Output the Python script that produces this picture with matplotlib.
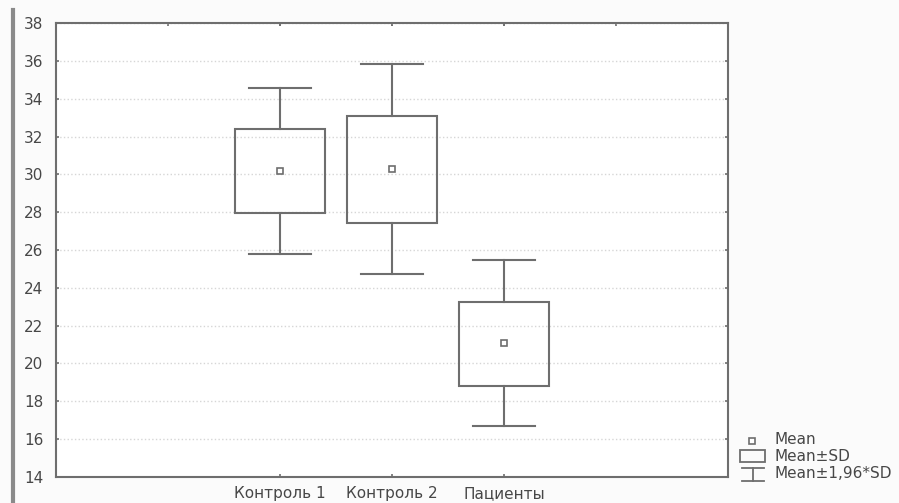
import matplotlib
matplotlib.use("Agg")
import matplotlib.pyplot as plt
from matplotlib.lines import Line2D
from matplotlib.patches import Rectangle

# data
groups = ["Контроль 1", "Контроль 2", "Пациенты"]
positions = [1, 2, 3]
means = [30.2, 30.3, 21.1]
sd_low = [27.95, 27.45, 18.82]
sd_high = [32.4, 33.1, 23.27]
ci_low = [25.8, 24.75, 16.68]
ci_high = [34.6, 35.85, 25.45]

EDGE = "#6e6e6e"
TXT = "#474747"

plt.rcParams["font.family"] = ["DejaVu Sans"]

fig = plt.figure(figsize=(8.99, 5.03), dpi=100, facecolor="#fbfbfb")
ax = fig.add_axes([56 / 899, 26.3 / 503, (728 - 56) / 899, (476.7 - 23.3) / 503])
ax.set_facecolor("white")

box_w = 0.8
cap_w = 0.56
for x, m, lo, hi, clo, chi in zip(positions, means, sd_low, sd_high, ci_low, ci_high):
    ax.add_patch(Rectangle((x - box_w / 2, lo), box_w, hi - lo, fill=False,
                           edgecolor=EDGE, lw=1.5, zorder=3))
    ax.plot([x, x], [hi, chi], color=EDGE, lw=1.5, zorder=3)
    ax.plot([x, x], [clo, lo], color=EDGE, lw=1.5, zorder=3)
    ax.plot([x - cap_w / 2, x + cap_w / 2], [chi, chi], color=EDGE, lw=1.5, zorder=3)
    ax.plot([x - cap_w / 2, x + cap_w / 2], [clo, clo], color=EDGE, lw=1.5, zorder=3)
    ax.plot(x, m, marker="s", ms=4.5, mfc="white", mec=EDGE, mew=1.2, zorder=4)

ax.set_xlim(-1, 5)
ax.set_ylim(14, 38)
ax.set_yticks(range(14, 39, 2))
ax.set_xticks(positions)
ax.set_xticklabels(groups)
ax.grid(axis="y", ls=":", color="#d6d6d6", lw=1.0)
ax.set_axisbelow(True)

for s in ax.spines.values():
    s.set_color(EDGE)
    s.set_linewidth(1.5)

ax.tick_params(direction="in", length=2, width=1.2, color=EDGE,
               labelcolor=TXT, labelsize=11, pad=9)
ax.tick_params(axis="x", pad=7)
ax.tick_params(right=True, top=True)
sec = ax.secondary_xaxis("top")
sec.set_xticks([0, 1, 2, 3, 4])
sec.tick_params(direction="in", length=2, width=1.2, color=EDGE, labeltop=False)
sec.spines["top"].set_visible(False)

# gray bar on the left edge
fig.add_artist(Line2D([13 / 899, 13 / 899], [0, 493 / 503], color="#8a8a8a",
                      lw=3, transform=fig.transFigure))

# legend drawn by hand
tf = fig.transFigure
def fx(px):
    return px / 899
def fy(py):
    return 1 - py / 503

fig.add_artist(Line2D([fx(752)], [fy(441)], marker="s", ms=4, mfc="white",
                      mec=EDGE, mew=1.2, transform=tf))
fig.add_artist(Rectangle((fx(740), fy(462)), fx(25), 12 / 503, fill=False,
                         edgecolor=EDGE, lw=1.3, transform=tf))
fig.add_artist(Line2D([fx(742), fx(764)], [fy(468), fy(468)], color=EDGE, lw=1.3, transform=tf))
fig.add_artist(Line2D([fx(753), fx(753)], [fy(468), fy(481)], color=EDGE, lw=1.3, transform=tf))
fig.add_artist(Line2D([fx(742), fx(764)], [fy(481), fy(481)], color=EDGE, lw=1.3, transform=tf))
for label, py in [("Mean", 440), ("Mean±SD", 456.5), ("Mean±1,96*SD", 473)]:
    fig.text(fx(775), fy(py), label, fontsize=11, color=TXT, va="center", ha="left")

fig.savefig("out.png", dpi=100, facecolor=fig.get_facecolor())
